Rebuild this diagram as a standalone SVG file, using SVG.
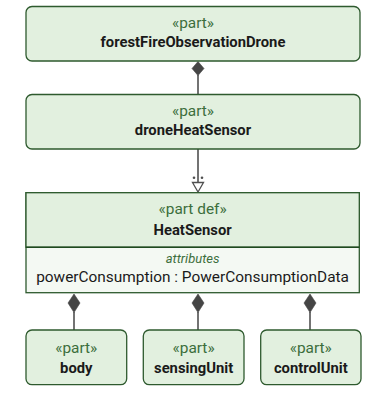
<svg xmlns="http://www.w3.org/2000/svg" width="367" height="395" viewBox="0 0 367 395">
  <style>
    .box { fill: #e2f0df; stroke: #2e5a2e; stroke-width: 1.3; }
    .comp { fill: #f4f9f3; stroke: #2e5a2e; stroke-width: 1.3; }
    .sep { stroke: #1f4a1f; stroke-width: 1.6; }
    .stereo { font-family: Roboto, "Liberation Sans", sans-serif; font-size: 15.4px; fill: #3c6e3c; text-anchor: middle; }
    .name { font-family: Roboto, "Liberation Sans", sans-serif; font-size: 14.8px; font-weight: bold; fill: #1a1a1a; text-anchor: middle; }
    .section { font-family: Roboto, "Liberation Sans", sans-serif; font-size: 13px; font-style: italic; fill: #3c6e3c; text-anchor: middle; }
    .attr { font-family: Roboto, "Liberation Sans", sans-serif; font-size: 15.4px; fill: #1a1a1a; text-anchor: middle; }
    .edge { stroke: #505050; stroke-width: 1.6; fill: none; }
    .diamond { fill: #454545; stroke: #454545; stroke-width: 0.6; }
    .tri { fill: #ffffff; stroke: #505050; stroke-width: 1.3; }
    .dot { fill: #505050; }
  </style>

  <g id="connectors">
    <!-- composition: forestFireObservationDrone owns droneHeatSensor -->
    <line class="edge" x1="198" y1="75" x2="198" y2="94.5"/>
    <polygon class="diamond" points="198,61.5 204,68.5 198,75.5 192,68.5"/>
    <!-- defined by: droneHeatSensor : HeatSensor -->
    <line class="edge" x1="198" y1="149" x2="198" y2="182"/>
    <polygon class="tri" points="192.5,182.5 203.5,182.5 198,192"/>
    <circle class="dot" cx="194" cy="177.8" r="1.3"/>
    <circle class="dot" cx="202" cy="177.8" r="1.3"/>
    <!-- compositions: HeatSensor owns body, sensingUnit, controlUnit -->
    <line class="edge" x1="74" y1="312" x2="74" y2="330"/>
    <polygon class="diamond" points="74,294 80,303 74,312.5 68,303"/>
    <line class="edge" x1="198" y1="312" x2="198" y2="330"/>
    <polygon class="diamond" points="198,294 204,303 198,312.5 192,303"/>
    <line class="edge" x1="310" y1="312" x2="310" y2="330"/>
    <polygon class="diamond" points="310,294 316,303 310,312.5 304,303"/>
  </g>

  <g id="forestFireObservationDrone">
    <rect class="box" x="26" y="6.5" width="334" height="54.5" rx="6"/>
    <text class="stereo" x="193" y="28.3">«part»</text>
    <text class="name" x="193" y="47.3">forestFireObservationDrone</text>
  </g>

  <g id="droneHeatSensor">
    <rect class="box" x="26" y="94.5" width="334" height="54.5" rx="6"/>
    <text class="stereo" x="193" y="116.3">«part»</text>
    <text class="name" x="193" y="135.3">droneHeatSensor</text>
  </g>

  <g id="HeatSensor">
    <rect class="comp" x="26" y="192.7" width="333.3" height="100"/>
    <rect class="box" x="26" y="192.7" width="333.3" height="54.6"/>
    <line class="sep" x1="26" y1="247.3" x2="359.3" y2="247.3"/>
    <text class="stereo" x="192.6" y="214.3">«part def»</text>
    <text class="name" x="192.6" y="235">HeatSensor</text>
    <text class="section" x="192.6" y="263.3">attributes</text>
    <text class="attr" x="192.6" y="282.3">powerConsumption : PowerConsumptionData</text>
  </g>

  <g id="body">
    <rect class="box" x="26" y="330" width="100.7" height="54.7" rx="6"/>
    <text class="stereo" x="76.3" y="352.5">«part»</text>
    <text class="name" x="76.3" y="372.5">body</text>
  </g>

  <g id="sensingUnit">
    <rect class="box" x="143.3" y="330" width="100.7" height="54.7" rx="6"/>
    <text class="stereo" x="193.6" y="352.5">«part»</text>
    <text class="name" x="193.6" y="372.5">sensingUnit</text>
  </g>

  <g id="controlUnit">
    <rect class="box" x="260.7" y="330" width="100.3" height="54.7" rx="6"/>
    <text class="stereo" x="310.8" y="352.5">«part»</text>
    <text class="name" x="310.8" y="372.5">controlUnit</text>
  </g>
</svg>
